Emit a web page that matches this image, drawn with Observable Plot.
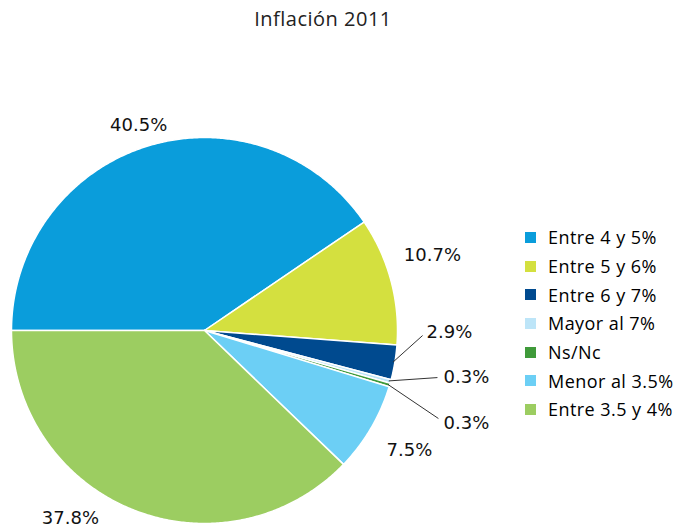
<!DOCTYPE html>
<html>
<head>
<meta charset="utf-8">
<script src="https://cdn.jsdelivr.net/npm/d3@7"></script>
<script src="https://cdn.jsdelivr.net/npm/@observablehq/plot@0.6"></script>
<style>
  html, body { margin: 0; padding: 0; background: #fff; }
  body { width: 677px; height: 529px; position: relative; overflow: hidden; font-family: "Open Sans", sans-serif; }
  #title { position: absolute; left: 0; width: 646px; top: 5px; text-align: center; font-size: 20px; color: #222; letter-spacing: 0.5px; font-weight: 500; }
  #chart { position: absolute; left: 0; top: 0; }
  #legend { position: absolute; left: 525px; top: 223px; }
  .row { display: flex; align-items: center; height: 28.7px; font-size: 18px; color: #000; letter-spacing: 0.45px; white-space: nowrap; }
  .sw { width: 11px; height: 11px; margin-right: 12px; flex: none; }
</style>
</head>
<body>
<div id="title">Inflación 2011</div>
<div id="chart"></div>
<div id="legend"></div>
<script>
// ---- data ----
const categories = ["Entre 4 y 5%", "Entre 5 y 6%", "Entre 6 y 7%", "Mayor al 7%", "Ns/Nc", "Menor al 3.5%", "Entre 3.5 y 4%"];
const values = [40.5, 10.7, 2.9, 0.3, 0.3, 7.5, 37.8];
const labels = ["40.5%", "10.7%", "2.9%", "0.3%", "0.3%", "7.5%", "37.8%"];
const colors = ["#0a9ddb", "#d4e03f", "#004a8f", "#bde5f8", "#3f9a3a", "#6ccff5", "#9ccd61"];

// ---- layout (label placement in polar form: radius factor, angle in degrees clockwise from north) ----
const labelPolar = [[1.116, 342.2], [1.243, 71.8], [1.269, 90.45], [1.379, 100.2], [1.440, 109.5], [1.231, 120.4], [1.196, 215.5]];
const leaderEnd = [null, null, [1.130, -0.026], [1.207, -0.244], [1.212, -0.456], null, null];

const startDeg = 270;
const total = d3.sum(values);
const rad = d => d * Math.PI / 180;
const polar = (r, deg) => [r * Math.sin(rad(deg)), r * Math.cos(rad(deg))];

// slice polygons
const slicePts = [];
const sliceInfo = [];
let acc = startDeg;
values.forEach((v, i) => {
  const a0 = acc, a1 = acc + v / total * 360;
  acc = a1;
  sliceInfo.push({cat: categories[i], a0, a1, mid: (a0 + a1) / 2});
  slicePts.push({cat: categories[i], x: 0, y: 0});
  const n = Math.max(2, Math.ceil((a1 - a0) / 0.5));
  for (let k = 0; k <= n; k++) {
    const [x, y] = polar(1, a0 + (a1 - a0) * k / n);
    slicePts.push({cat: categories[i], x, y});
  }
  slicePts.push({cat: categories[i], x: 0, y: 0});
});

// label positions
const labelData = labels.map((t, i) => {
  const [r, ang] = labelPolar[i];
  const [x, y] = polar(r, ang == null ? sliceInfo[i].mid : ang);
  return {t, x, y};
});

// leader lines
const leaders = [];
leaderEnd.forEach((e, i) => {
  if (!e) return;
  const [x1, y1] = polar(0.99, sliceInfo[i].mid);
  leaders.push({x1, y1, x2: e[0], y2: e[1]});
});

const cx = 204, cy = 330, R = 193;
const plot = Plot.plot({
  width: 677,
  height: 529,
  margin: 0,
  x: {domain: [-1, 1], range: [cx - R, cx + R], axis: null},
  y: {domain: [-1, 1], range: [cy + R, cy - R], axis: null},
  color: {domain: categories, range: colors},
  marks: [
    Plot.line(slicePts, {x: "x", y: "y", z: "cat", fill: "cat", stroke: "white", strokeWidth: 1.5, strokeLinejoin: "round", curve: "linear"}),
    Plot.link(leaders, {x1: "x1", y1: "y1", x2: "x2", y2: "y2", stroke: "#333", strokeWidth: 1}),
    Plot.text(labelData, {x: "x", y: "y", text: "t", fontSize: 18, fill: "#111", fontFamily: "DejaVu Sans", textAnchor: "middle"})
  ]
});
document.getElementById("chart").appendChild(plot);

// legend
const leg = document.getElementById("legend");
categories.forEach((c, i) => {
  const row = document.createElement("div");
  row.className = "row";
  const sw = document.createElement("span");
  sw.className = "sw";
  sw.style.background = colors[i];
  const tx = document.createElement("span");
  tx.textContent = c;
  row.appendChild(sw);
  row.appendChild(tx);
  leg.appendChild(row);
});
</script>
</body>
</html>
